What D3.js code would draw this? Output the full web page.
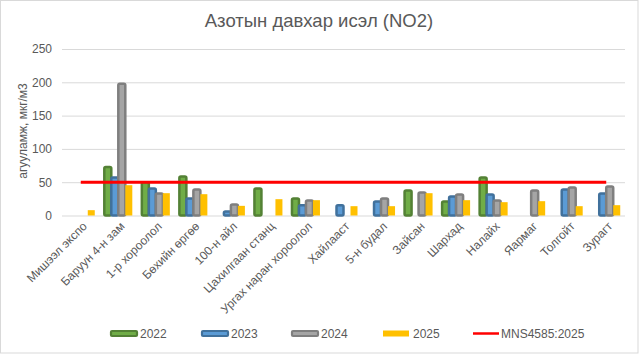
<!DOCTYPE html>
<html><head><meta charset="utf-8">
<script src="https://cdn.jsdelivr.net/npm/d3@7"></script>
<style>body{margin:0;background:#fff}svg{display:block;font-family:"Liberation Sans",Arial,sans-serif}</style>
</head><body>
<script>
const categories = ["Мишээл экспо","Баруун 4-н зам","1-р хороолол","Бөхийн өргөө","100-н айл","Цахилгаан станц","Ургах наран хороолол","Хайлааст","5-н будал","Зайсан","Шархад","Налайх","Яармаг","Толгойт","Зурагт"];
const v2022 = [null,73,50,58.5,null,40.5,25.5,null,null,37.5,21,57,null,null,null];
const v2023 = [null,57,40.5,25.5,6,null,15.5,15.5,21,null,28.5,31.5,null,39,33];
const v2024 = [null,198,33,39,16.5,null,22.5,null,25.5,34.5,31.5,22.5,37.5,42,43.5];
const v2025 = [8,45.5,33.5,32,14.5,24.5,23,14,14,33.5,23,20,21.5,14,15.5];
const standard = [50,50,50,50,50,50,50,50,50,50,50,50,50,50,50];
const yTicks = [0,50,100,150,200,250];
const seriesNames = ["2022","2023","2024","2025"];
const standardName = "MNS4585:2025";
const titleText = "Азотын давхар исэл (NO2)";
const yTitle = "агууламж, мкг/м3";

const W=639,H=355;
const svg=d3.select("body").append("svg").attr("width",W).attr("height",H);
svg.append("rect").attr("x",0.5).attr("y",0.5).attr("width",637.5).attr("height",352.5).attr("fill","#fff").attr("stroke","#D9D9D9");

const x=d3.scaleBand().domain(categories).range([62,625]).paddingInner(0).paddingOuter(0);
const y=d3.scaleLinear().domain([0,250]).range([215.5,49]);
const xs=d3.scaleBand().domain(seriesNames).range([0,28]);

svg.append("text").attr("x",319).attr("y",27).attr("text-anchor","middle").attr("font-size",18.5).attr("fill","#595959").text(titleText);

// grid
const yAxis=d3.axisLeft(y).tickValues(yTicks).tickSize(-(625-62)).tickPadding(10);
const gy=svg.append("g").attr("transform","translate(62,0)").call(yAxis);
gy.select(".domain").remove();
gy.selectAll(".tick line").attr("stroke","#D9D9D9");
gy.selectAll(".tick text").attr("fill","#595959").attr("font-size",12).attr("font-family","Liberation Sans, Arial, sans-serif").attr("x",-10);

svg.append("text").attr("transform","translate(27,131) rotate(-90)").attr("text-anchor","middle").attr("font-size",12).attr("fill","#595959").text(yTitle);

const styles=[
 {fill:"#70AD47",stroke:"#538135"},
 {fill:"#5B9BD5",stroke:"#41719C"},
 {fill:"#A5A5A5",stroke:"#7F7F7F"},
 {fill:"#FFC000",stroke:null}
];
const allVals=[v2022,v2023,v2024,v2025];
allVals.forEach((vals,si)=>{
  const st=styles[si];
  const data=categories.map((c,i)=>({c,v:vals[i]})).filter(d=>d.v!=null);
  svg.append("g").selectAll("rect").data(data).join("rect")
    .attr("x",d=>x(d.c)+x.bandwidth()/2-14+xs(seriesNames[si]))
    .attr("width",xs.bandwidth())
    .attr("y",d=>y(d.v))
    .attr("height",d=>y(0)-y(d.v))
    .attr("fill",st.fill)
    .attr("stroke",st.stroke||"none")
    .attr("stroke-width",st.stroke?2.5:0)
    .attr("rx",st.stroke?1.5:0);
});

// standard line
const line=d3.line().x((d,i)=>x(categories[i])+x.bandwidth()/2).y(d=>y(d));
svg.append("path").datum(standard).attr("d",line).attr("fill","none").attr("stroke","#FF0000").attr("stroke-width",3);

// x labels
svg.append("g").selectAll("text").data(categories).join("text")
  .attr("transform",d=>`translate(${x(d)+x.bandwidth()/2+4},${224}) rotate(-45)`)
  .attr("text-anchor","end").attr("dy","0.35em").attr("font-size",12).attr("fill","#595959").text(d=>d);

// legend
const legX=[110,201,291,383];
seriesNames.forEach((n,i)=>{
  const st=styles[i];
  const g=svg.append("g");
  if(st.stroke){
    g.append("rect").attr("x",legX[i]+1).attr("y",331).attr("width",26).attr("height",5).attr("fill",st.fill).attr("stroke",st.stroke).attr("stroke-width",2.2).attr("rx",1);
  } else {
    g.append("rect").attr("x",legX[i]).attr("y",330.5).attr("width",26).attr("height",6).attr("fill",st.fill);
  }
  g.append("text").attr("x",legX[i]+30).attr("y",338).attr("font-size",12).attr("fill","#595959").text(n);
});
svg.append("line").attr("x1",473).attr("x2",499).attr("y1",333.5).attr("y2",333.5).attr("stroke","#FF0000").attr("stroke-width",2.5);
svg.append("text").attr("x",501).attr("y",338).attr("font-size",12).attr("fill","#595959").text(standardName);
</script>
</body></html>
